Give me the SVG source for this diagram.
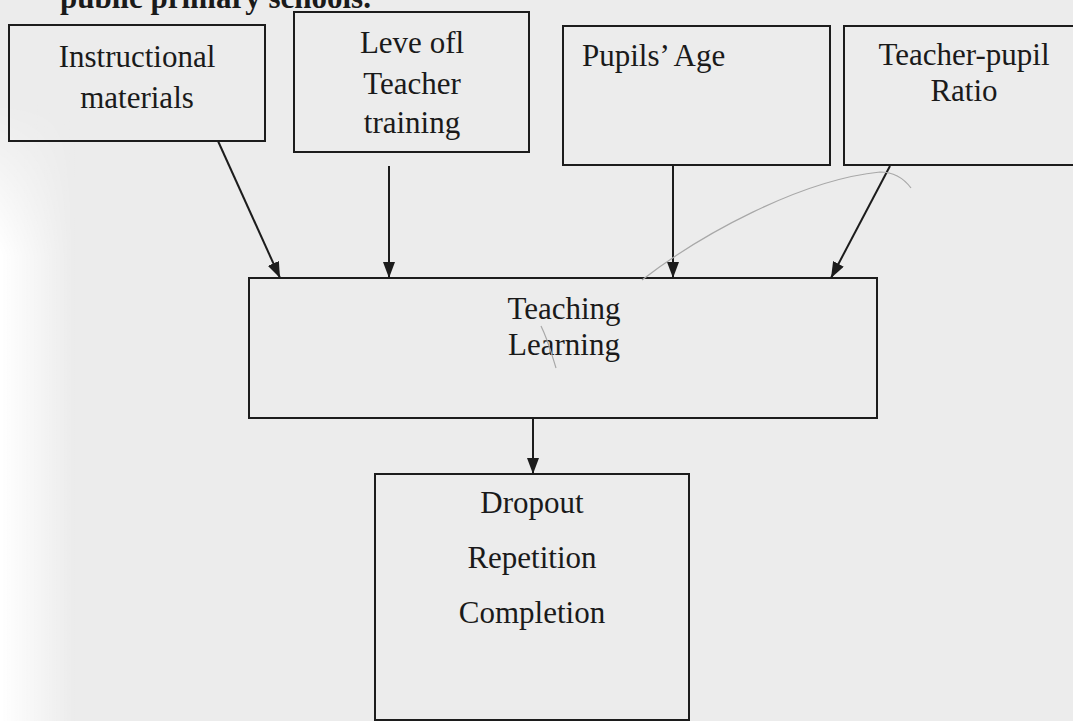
<svg xmlns="http://www.w3.org/2000/svg" width="1073" height="721" viewBox="0 0 1073 721">
<style>
.box{fill:none;stroke:#1c1c1c;stroke-width:2}
.t{font-family:"Liberation Serif","Times New Roman",serif;font-size:31px;fill:#1a1a1a}
.c{text-anchor:middle}
.conn{stroke:#1c1c1c;stroke-width:2;fill:none;marker-end:url(#ah)}
.faint{stroke:#a8a8a8;stroke-width:1.2;fill:none}
</style>
<defs>
<marker id="ah" viewBox="0 0 16 12" refX="16" refY="6" markerWidth="16" markerHeight="12" markerUnits="userSpaceOnUse" orient="auto">
<path d="M0,0 L16,6 L0,12 Z" fill="#1c1c1c"/>
</marker>
<linearGradient id="lg" x1="0" y1="0" x2="1" y2="0">
<stop offset="0" stop-color="#ffffff"/>
<stop offset="1" stop-color="#ffffff" stop-opacity="0"/>
</linearGradient>
<linearGradient id="vg" x1="0" y1="0" x2="0" y2="1">
<stop offset="0" stop-color="#000"/>
<stop offset="0.25" stop-color="#fff"/>
<stop offset="1" stop-color="#fff"/>
</linearGradient>
<mask id="m" maskUnits="userSpaceOnUse" x="0" y="100" width="80" height="621">
<rect x="0" y="100" width="80" height="621" fill="url(#vg)"/>
</mask>
</defs>
<rect width="1073" height="721" fill="#ececec"/>
<rect x="0" y="100" width="75" height="621" fill="url(#lg)" mask="url(#m)"/>
<text class="t" x="60" y="8" font-weight="bold">public primary schools.</text>

<g id="instructional">
<rect class="box" x="9" y="25" width="256" height="116"/>
<text class="t c" x="137" y="67">Instructional</text>
<text class="t c" x="137" y="108">materials</text>
</g>
<g id="training">
<rect class="box" x="294" y="12" width="235" height="140"/>
<text class="t c" x="412" y="53">Leve ofl</text>
<text class="t c" x="412" y="94">Teacher</text>
<text class="t c" x="412" y="133">training</text>
</g>
<g id="age">
<rect class="box" x="563" y="26" width="267" height="139"/>
<text class="t" x="582" y="66">Pupils’ Age</text>
</g>
<g id="ratio">
<rect class="box" x="844" y="26" width="250" height="139"/>
<text class="t c" x="964" y="65">Teacher-pupil</text>
<text class="t c" x="964" y="101">Ratio</text>
</g>
<g id="teaching">
<rect class="box" x="249" y="278" width="628" height="140"/>
<text class="t c" x="564" y="319">Teaching</text>
<text class="t c" x="564" y="355">Learning</text>
</g>
<g id="outcomes">
<rect class="box" x="375" y="474" width="314" height="246"/>
<text class="t c" x="532" y="513">Dropout</text>
<text class="t c" x="532" y="568">Repetition</text>
<text class="t c" x="532" y="623">Completion</text>
</g>
<g id="connectors">
<line class="conn" x1="218" y1="141" x2="280" y2="278"/>
<line class="conn" x1="389" y1="166" x2="389" y2="278"/>
<line class="conn" x1="673" y1="165" x2="673" y2="278"/>
<line class="conn" x1="890" y1="166" x2="831" y2="278"/>
<line class="conn" x1="533" y1="418" x2="533" y2="474"/>
</g>
<path class="faint" d="M642,280 C700,235 800,180 880,172 C895,172 905,180 911,188"/>
<path class="faint" d="M541,326 C548,340 552,355 556,368"/>
</svg>
